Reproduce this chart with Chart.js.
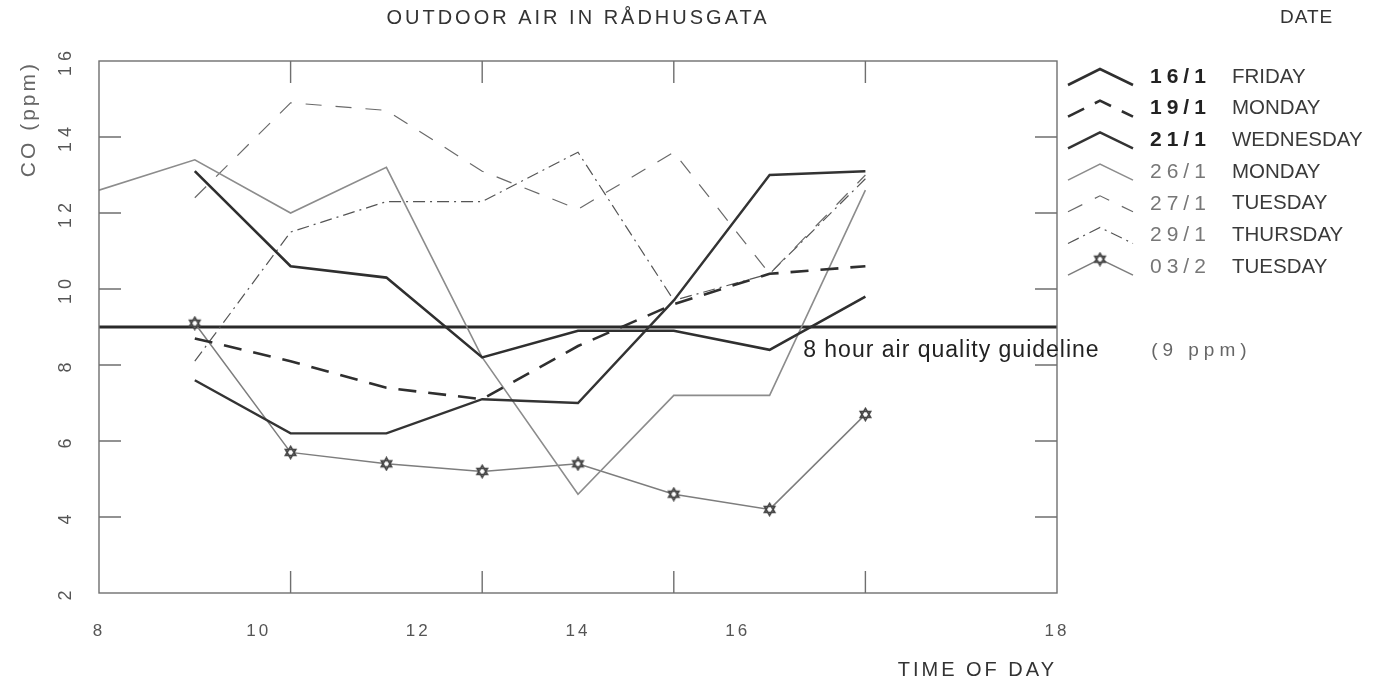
<!DOCTYPE html>
<html>
<head>
<meta charset="utf-8">
<script src="https://cdn.jsdelivr.net/npm/chart.js@4.4.0/dist/chart.umd.min.js"></script>
<style>
  html, body { margin: 0; padding: 0; background: #fff; }
</style>
</head>
<body>
<canvas id="co-chart" width="1384" height="685"></canvas>
<script>
// hourly CO readings, ppm (null = no reading)
const hours = [8, 9, 10, 11, 12, 13, 14, 15, 16];
const dates = ['16/1', '19/1', '21/1', '26/1', '27/1', '29/1', '03/2'];
const weekdays = ['FRIDAY', 'MONDAY', 'WEDNESDAY', 'MONDAY', 'TUESDAY', 'THURSDAY', 'TUESDAY'];
const co16jan = [null, 13.1, 10.6, 10.3, 8.2, 8.9, 8.9, 8.4, 9.8];
const co19jan = [null, 8.7, 8.1, 7.4, 7.1, 8.5, 9.6, 10.4, 10.6];
const co21jan = [null, 7.6, 6.2, 6.2, 7.1, 7.0, 9.7, 13.0, 13.1];
const co26jan = [12.6, 13.4, 12.0, 13.2, 8.2, 4.6, 7.2, 7.2, 12.6];
const co27jan = [null, 12.4, 14.9, 14.7, 13.1, 12.1, 13.6, 10.4, 13.0];
const co29jan = [null, 8.1, 11.5, 12.3, 12.3, 13.6, 9.7, 10.4, 12.9];
const co03feb = [null, 9.1, 5.7, 5.4, 5.2, 5.4, 4.6, 4.2, 6.7];
const guideline = 9;
const guidelineSpan = [8, 18];
const xTickLabels = ['8', '10', '12', '14', '16', '18'];

const series = [co16jan, co19jan, co21jan, co26jan, co27jan, co29jan, co03feb];

// where the printed hour labels sit on the original sheet
const xLabelSpots = [8, 9.667, 11.333, 13, 14.667, 18];

const FONT = '"Liberation Sans", Arial, sans-serif';

function hexagram(size, color) {
  const c = document.createElement('canvas');
  c.width = c.height = size;
  const g = c.getContext('2d');
  const r = size / 2 - 1.5, m = size / 2;
  const tri = (a0) => {
    g.beginPath();
    for (let k = 0; k < 3; k++) {
      const a = (a0 + k * 120) * Math.PI / 180;
      const px = m + r * Math.cos(a), py = m + r * Math.sin(a);
      k ? g.lineTo(px, py) : g.moveTo(px, py);
    }
    g.closePath();
  };
  g.fillStyle = '#fff';
  tri(-90); g.fill(); tri(90); g.fill();
  g.strokeStyle = color; g.lineWidth = 1.6;
  tri(-90); g.stroke(); tri(90); g.stroke();
  return c;
}

const star = hexagram(15, '#444');

const looks = [
  {color: '#2f2f2f', width: 2.6, dash: []},
  {color: '#2f2f2f', width: 2.6, dash: [18, 12]},
  {color: '#333333', width: 2.4, dash: []},
  {color: '#8c8c8c', width: 1.6, dash: []},
  {color: '#6a6a6a', width: 1.2, dash: [16, 14]},
  {color: '#555555', width: 1.2, dash: [12, 5, 2, 5]},
  {color: '#7d7d7d', width: 1.5, dash: [], marker: star},
];

const datasets = series.map((vals, i) => ({
  label: dates[i] + ' ' + weekdays[i],
  data: hours.map((h, j) => ({x: h, y: vals[j]})).filter(p => p.y !== null),
  borderColor: looks[i].color,
  borderWidth: looks[i].width,
  borderDash: looks[i].dash,
  pointStyle: looks[i].marker || 'circle',
  pointRadius: looks[i].marker ? 7 : 0,
  tension: 0,
  fill: false,
}));

datasets.push({
  label: 'guideline',
  data: guidelineSpan.map(h => ({x: h, y: guideline})),
  borderColor: '#2a2a2a',
  borderWidth: 3,
  pointRadius: 0,
  fill: false,
});

// letter spaced axis lettering, like the plotter font of the original
const spacing = {
  id: 'spacing',
  beforeDraw(chart) { chart.ctx.letterSpacing = '3px'; },
  beforeDatasetsDraw(chart) { chart.ctx.letterSpacing = '0px'; },
  afterDatasetsDraw(chart) { chart.ctx.letterSpacing = '5px'; },
};

// plot frame with inward tick marks
const frame = {
  id: 'frame',
  afterDatasetsDraw(chart) {
    const {ctx, chartArea: a, scales: {x, y}} = chart;
    ctx.save();
    ctx.strokeStyle = '#6f6f6f';
    ctx.lineWidth = 1.4;
    ctx.setLineDash([]);
    ctx.strokeRect(a.left, a.top, a.right - a.left, a.bottom - a.top);
    ctx.beginPath();
    [10, 12, 14, 16].forEach(v => {
      const px = x.getPixelForValue(v);
      ctx.moveTo(px, a.top); ctx.lineTo(px, a.top + 22);
      ctx.moveTo(px, a.bottom); ctx.lineTo(px, a.bottom - 22);
    });
    [4, 6, 8, 10, 12, 14].forEach(v => {
      const py = y.getPixelForValue(v);
      ctx.moveTo(a.left, py); ctx.lineTo(a.left + 22, py);
      ctx.moveTo(a.right, py); ctx.lineTo(a.right - 22, py);
    });
    ctx.stroke();
    ctx.restore();
  },
  afterDraw(chart) {
    const {ctx, scales: {x, y}} = chart;
    ctx.save();
    ctx.textBaseline = 'middle';
    ctx.textAlign = 'left';
    const gx = x.getPixelForValue(15.35), gy = y.getPixelForValue(guideline) + 24;
    ctx.letterSpacing = '1px';
    ctx.font = '23px ' + FONT;
    ctx.fillStyle = '#222';
    ctx.fillText('8 hour air quality guideline', gx, gy);
    ctx.font = '19px ' + FONT;
    ctx.fillStyle = '#666';
    ctx.letterSpacing = '5px';
    ctx.fillText('(9 ppm)', gx + 348, gy);
    ctx.restore();
  },
};

// legend with chevron samples
const dateLegend = {
  id: 'dateLegend',
  afterDraw(chart) {
    const {ctx, chartArea: a} = chart;
    const x0 = a.right + 11;
    ctx.save();
    ctx.textBaseline = 'middle';
    ctx.textAlign = 'left';
    ctx.letterSpacing = '1px';
    ctx.font = '19px ' + FONT;
    ctx.fillStyle = '#333';
    ctx.fillText('DATE', x0 + 212, 18);
    dates.forEach((d, i) => {
      const ds = chart.data.datasets[i];
      const yc = 77 + i * 31.7;
      ctx.save();
      ctx.strokeStyle = ds.borderColor;
      ctx.lineWidth = ds.borderWidth;
      ctx.setLineDash(ds.borderDash);
      ctx.beginPath();
      ctx.moveTo(x0, yc + 8);
      ctx.lineTo(x0 + 32, yc - 8);
      ctx.lineTo(x0 + 65, yc + 8);
      ctx.stroke();
      ctx.restore();
      if (looks[i].marker) {
        const m = looks[i].marker;
        ctx.drawImage(m, x0 + 32 - m.width / 2, yc - 8 - m.height / 2);
      }
      const bold = i < 3;
      ctx.letterSpacing = '5px';
      ctx.font = (bold ? 'bold ' : '') + '21px ' + FONT;
      ctx.fillStyle = bold ? '#222' : '#777';
      ctx.fillText(d, x0 + 82, yc);
      ctx.letterSpacing = '0px';
      ctx.font = '20.5px ' + FONT;
      ctx.fillStyle = '#3a3a3a';
      ctx.fillText(weekdays[i], x0 + 164, yc);
    });
    ctx.restore();
  },
};

const config = {
  type: 'line',
  data: {datasets: datasets},
  options: {
    responsive: false,
    animation: false,
    devicePixelRatio: 1,
    layout: {padding: {left: 0, right: 327, top: 0, bottom: 0}},
    plugins: {
      legend: {display: false},
      tooltip: {enabled: false},
      title: {
        display: true,
        text: 'OUTDOOR AIR IN RÅDHUSGATA',
        fullSize: false,
        color: '#333',
        font: {family: FONT, size: 20, weight: 'normal'},
        padding: {top: 6, bottom: 31},
      },
    },
    scales: {
      x: {
        type: 'linear',
        min: 8,
        max: 18,
        afterBuildTicks: (s) => { s.ticks = xLabelSpots.map(v => ({value: v})); },
        afterFit: (s) => { s.height = 92; },
        ticks: {
          autoSkip: false,
          maxRotation: 0,
          padding: 8,
          color: '#555',
          font: {family: FONT, size: 17},
          callback: (v, i) => xTickLabels[i],
        },
        grid: {display: false, drawTicks: true, tickLength: 20},
        border: {display: false},
        title: {
          display: true,
          text: 'TIME OF DAY',
          align: 'end',
          color: '#333',
          font: {family: FONT, size: 20},
          padding: {top: 0, bottom: 3},
        },
      },
      y: {
        type: 'linear',
        min: 2,
        max: 16,
        afterFit: (s) => { s.width = 99; },
        ticks: {
          z: 1,
          stepSize: 2,
          minRotation: 90,
          maxRotation: 90,
          crossAlign: 'center',
          padding: 12,
          color: '#555',
          font: {family: FONT, size: 18},
        },
        grid: {display: false, drawTicks: true, tickLength: 11},
        border: {display: false},
        title: {
          display: true,
          text: 'CO (ppm)',
          align: 'end',
          color: '#666',
          font: {family: FONT, size: 21},
          padding: {top: 17, bottom: 0},
        },
      },
    },
  },
  plugins: [spacing, frame, dateLegend],
};

const coChart = new Chart(document.getElementById('co-chart'), config);
</script>
</body>
</html>
